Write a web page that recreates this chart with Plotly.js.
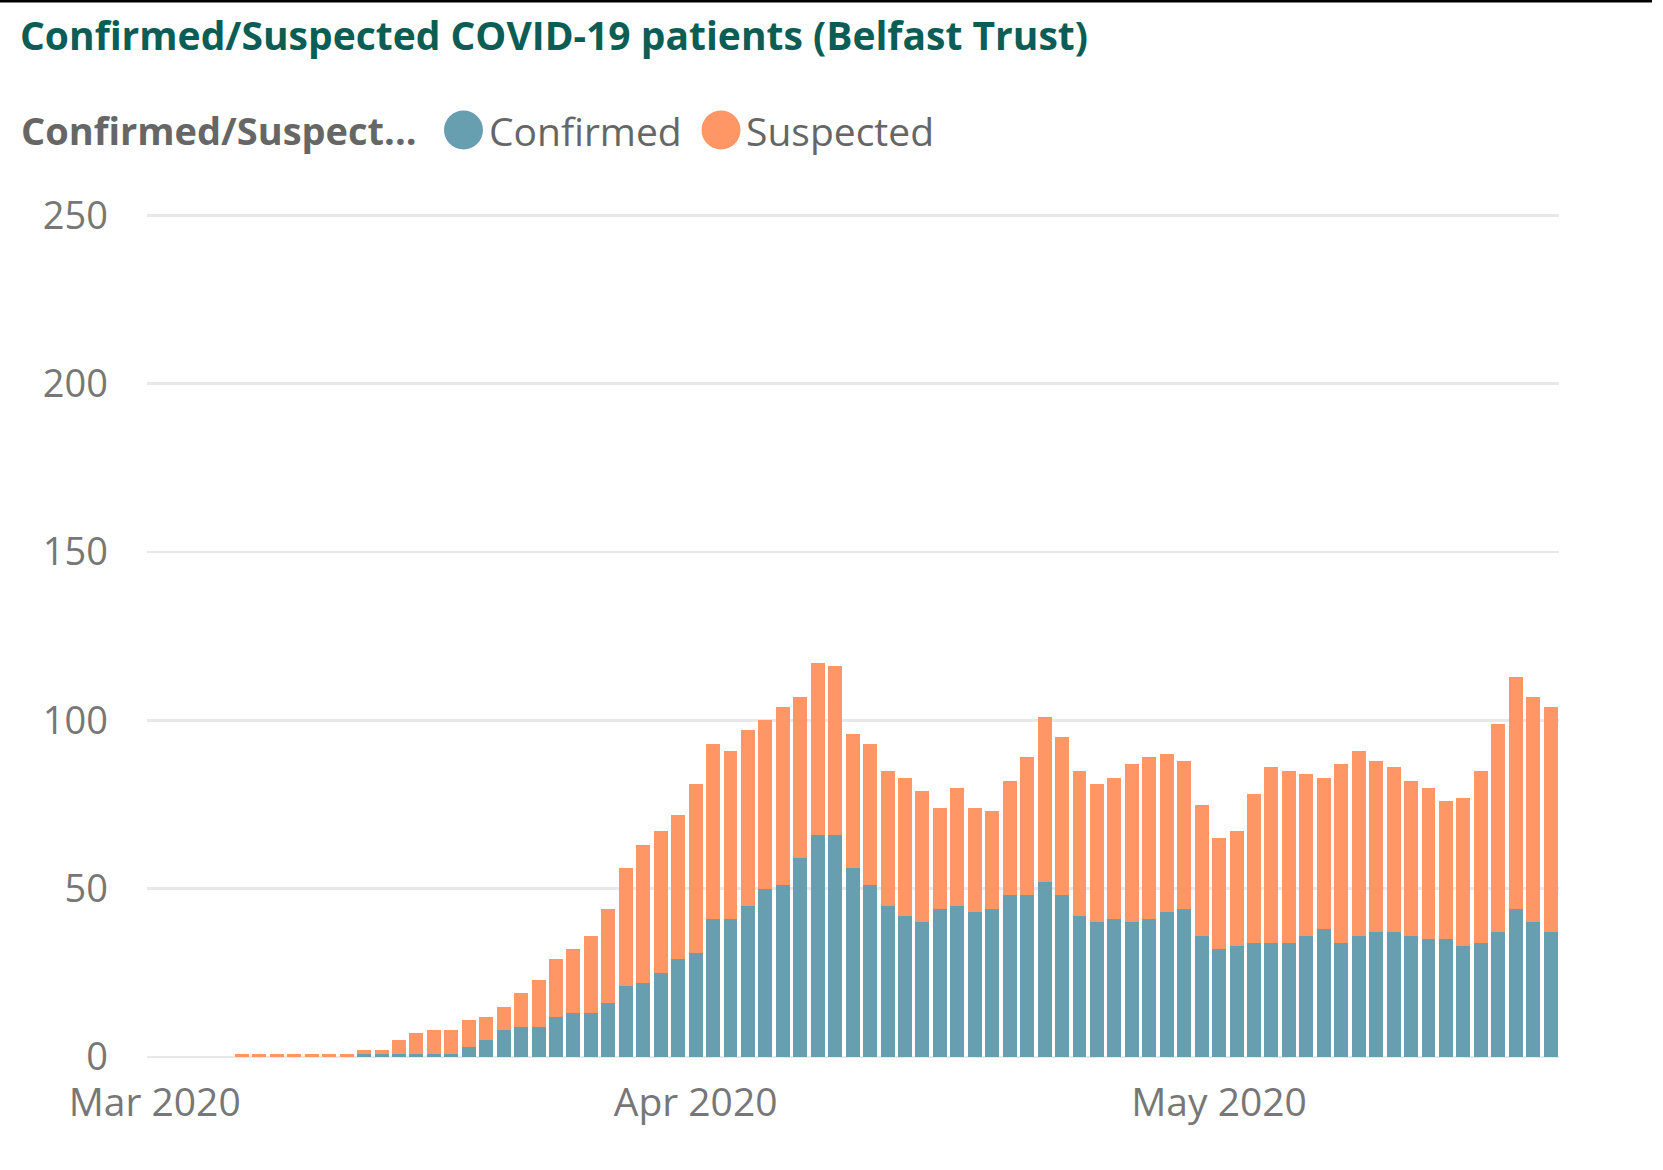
<!DOCTYPE html>
<html>
<head>
<meta charset="utf-8">
<script src="https://cdn.plot.ly/plotly-3.0.1.min.js"></script>
<style>
  html, body { margin: 0; padding: 0; background: #ffffff; }
  #chart { width: 1663px; height: 1170px; }
</style>
</head>
<body>
<div id="chart"></div>
<script>
// ---- Data ----
const dates = [
  '2020-03-06','2020-03-07','2020-03-08','2020-03-09','2020-03-10','2020-03-11','2020-03-12','2020-03-13',
  '2020-03-14','2020-03-15','2020-03-16','2020-03-17','2020-03-18','2020-03-19','2020-03-20','2020-03-21',
  '2020-03-22','2020-03-23','2020-03-24','2020-03-25','2020-03-26','2020-03-27','2020-03-28','2020-03-29',
  '2020-03-30','2020-03-31','2020-04-01','2020-04-02','2020-04-03','2020-04-04','2020-04-05','2020-04-06',
  '2020-04-07','2020-04-08','2020-04-09','2020-04-10','2020-04-11','2020-04-12','2020-04-13','2020-04-14',
  '2020-04-15','2020-04-16','2020-04-17','2020-04-18','2020-04-19','2020-04-20','2020-04-21','2020-04-22',
  '2020-04-23','2020-04-24','2020-04-25','2020-04-26','2020-04-27','2020-04-28','2020-04-29','2020-04-30',
  '2020-05-01','2020-05-02','2020-05-03','2020-05-04','2020-05-05','2020-05-06','2020-05-07','2020-05-08',
  '2020-05-09','2020-05-10','2020-05-11','2020-05-12','2020-05-13','2020-05-14','2020-05-15','2020-05-16',
  '2020-05-17','2020-05-18','2020-05-19','2020-05-20'
];

const confirmed = [
  0,0,0,0,0,0,0,1,
  1,1,1,1,1,3,5,8,
  9,9,12,13,13,16,21,22,
  25,29,31,41,41,45,50,51,
  59,66,66,56,51,45,42,40,
  44,45,43,44,48,48,52,48,
  42,40,41,40,41,43,44,36,
  32,33,34,34,34,36,38,34,
  36,37,37,36,35,35,33,34,
  37,44,40,37
];

const suspected = [
  1,1,1,1,1,1,1,1,
  1,4,6,7,7,8,7,7,
  10,14,17,19,23,28,35,41,
  42,43,50,52,50,52,50,53,
  48,51,50,40,42,40,41,39,
  30,35,31,29,34,41,49,47,
  43,41,42,47,48,47,44,39,
  33,34,44,52,51,48,45,53,
  55,51,49,46,45,41,44,51,
  62,69,67,67
];

const seriesNames = ['Confirmed', 'Suspected'];
const seriesColors = ['#689FB0', '#FF9666'];
const legendTitle = 'Confirmed/Suspect...';
const chartTitle = 'Confirmed/Suspected COVID-19 patients (Belfast Trust)';

const xTickVals = ['2020-03-01', '2020-04-01', '2020-05-01'];
const xTickText = ['Mar 2020', 'Apr 2020', 'May 2020'];
const yTickVals = [0, 50, 100, 150, 200, 250];

// ---- Traces ----
const traces = [
  {
    type: 'bar', name: seriesNames[0], x: dates, y: confirmed,
    marker: { color: seriesColors[0], line: { width: 0 } },
    showlegend: false, hoverinfo: 'x+y+name'
  },
  {
    type: 'bar', name: seriesNames[1], x: dates, y: suspected,
    marker: { color: seriesColors[1], line: { width: 0 } },
    showlegend: false, hoverinfo: 'x+y+name'
  }
];

// ---- Layout geometry (pixels) ----
const W = 1663, H = 1170;
const L = 147, R = 104, T = 212, B = 113;
const plotW = W - L - R, plotH = H - T - B;
const px = v => (v - L) / plotW;              // pixel x -> paper x
const py = v => (H - B - v) / plotH;          // pixel y -> paper y

const legendY = py(130);
const textFont = "'Open Sans', 'Noto Sans', sans-serif";

const layout = {
  width: W, height: H,
  margin: { l: L, r: R, t: T, b: B, pad: 0 },
  paper_bgcolor: '#ffffff', plot_bgcolor: '#ffffff',
  barmode: 'stack', bargap: 0.2,
  showlegend: false,
  font: { family: textFont, color: '#777777', size: 38 },
  title: {
    text: chartTitle,
    font: { family: textFont, size: 39, color: '#0B5D55', weight: 'bold' },
    x: 20 / W, xanchor: 'left', xref: 'container',
    y: 1 - 36 / H, yanchor: 'middle', yref: 'container'
  },
  xaxis: {
    type: 'date',
    range: ['2020-02-29 13:26', '2020-05-20 11:30'],
    tickmode: 'array', tickvals: xTickVals, ticktext: xTickText,
    showgrid: false, zeroline: false, showline: false, ticks: '',
    tickfont: { family: textFont, size: 39, color: '#777777' },
    ticklabelstandoff: 19
  },
  yaxis: {
    range: [0, 251], tickmode: 'array', tickvals: yTickVals,
    showgrid: true, gridcolor: '#E8E8E8', gridwidth: 2.5,
    zeroline: true, zerolinecolor: '#E8E8E8', zerolinewidth: 2.5,
    showline: false, ticks: '',
    tickfont: { family: textFont, size: 38, color: '#777777' },
    ticklabelstandoff: 38
  },
  shapes: [
    { type: 'line', xref: 'paper', yref: 'paper', x0: px(0), x1: px(1652), y0: py(1), y1: py(1),
      line: { color: '#000000', width: 3 } },
    { type: 'circle', xref: 'paper', yref: 'paper', xsizemode: 'pixel', ysizemode: 'pixel',
      xanchor: px(463.5), yanchor: legendY, x0: -19.5, x1: 19.5, y0: -19.5, y1: 19.5,
      fillcolor: seriesColors[0], line: { width: 0 } },
    { type: 'circle', xref: 'paper', yref: 'paper', xsizemode: 'pixel', ysizemode: 'pixel',
      xanchor: px(721), yanchor: legendY, x0: -19.5, x1: 19.5, y0: -19.5, y1: 19.5,
      fillcolor: seriesColors[1], line: { width: 0 } }
  ],
  annotations: [
    { text: legendTitle, xref: 'paper', yref: 'paper', x: px(19), y: legendY,
      xanchor: 'left', yanchor: 'middle', showarrow: false,
      font: { family: textFont, size: 38, color: '#666666', weight: 'bold' } },
    { text: seriesNames[0], xref: 'paper', yref: 'paper', x: px(487), y: legendY,
      xanchor: 'left', yanchor: 'middle', showarrow: false,
      font: { family: textFont, size: 39, color: '#666666' } },
    { text: seriesNames[1], xref: 'paper', yref: 'paper', x: px(744), y: legendY,
      xanchor: 'left', yanchor: 'middle', showarrow: false,
      font: { family: textFont, size: 39, color: '#666666' } }
  ]
};

Plotly.newPlot('chart', traces, layout, { displayModeBar: false, staticPlot: true });
</script>
</body>
</html>
